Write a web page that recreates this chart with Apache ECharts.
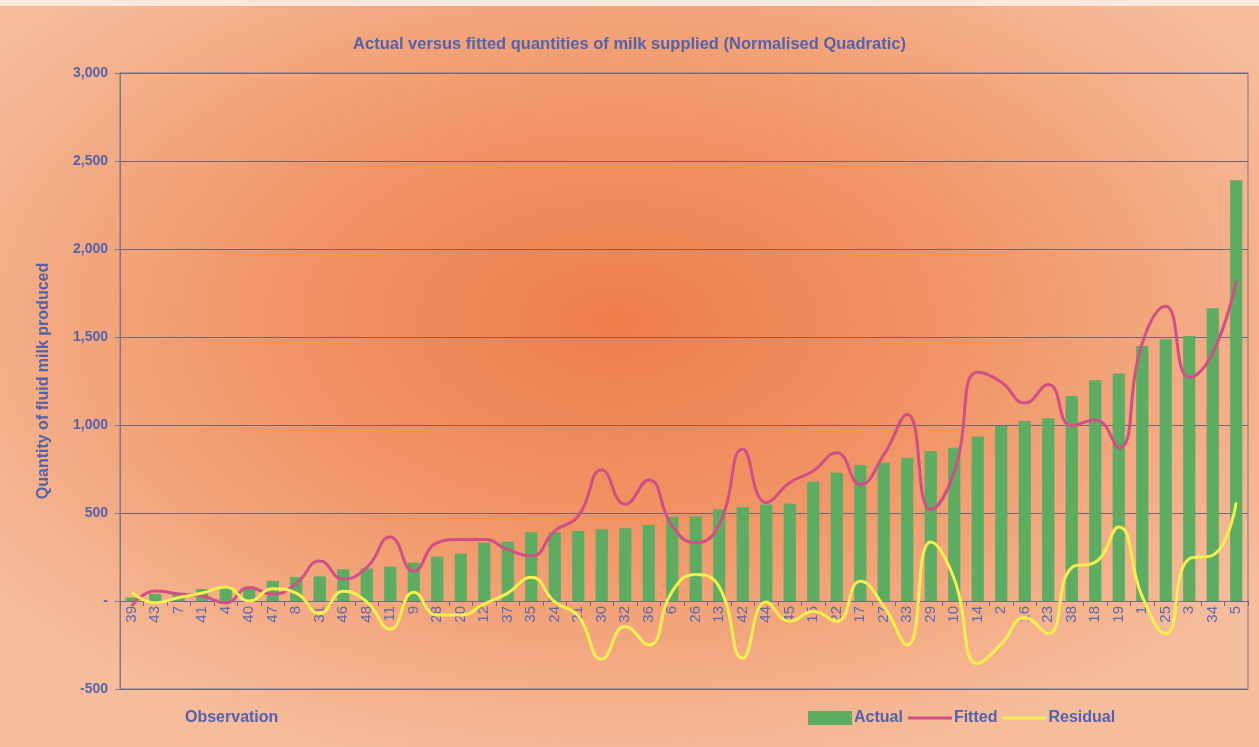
<!DOCTYPE html>
<html>
<head>
<meta charset="utf-8">
<script src="https://cdn.jsdelivr.net/npm/echarts@6/dist/echarts.min.js"></script>
<style>
  html, body { margin: 0; padding: 0; }
  #chart { width: 1259px; height: 747px; }
</style>
</head>
<body>
<div id="chart"></div>
<script>
// observation numbers, in the order they appear on the x axis
var categories = ['39','43','7','41','4','40','47','8','31','46','48','11','9','28','20','12','37','35','24','21','30','32','36','6','26','13','42','44','45','15','22','17','27','33','29','10','14','2','16','23','38','18','19','1','25','3','34','5'];

var actual = [20,40,47,68,75,80,114,136,140,180,185,195,218,252,269,331,337,390,390,398,407,413,432,478,480,521,534,549,552,678,729,773,786,814,852,871,934,994,1023,1038,1165,1254,1292,1449,1487,1506,1663,2390];

var fitted = [-28,57,40,28,-10,76,38,100,227,125,190,364,170,331,350,350,292,256,398,483,744,550,688,426,331,436,862,559,672,739,843,663,830,1060,520,735,1300,1245,1125,1230,995,1030,870,1465,1675,1270,1410,1820];

var residual = [50,-10,20,45,80,0,70,45,-70,55,-5,-160,50,-80,-80,-17,45,135,-5,-85,-330,-145,-250,55,150,80,-325,-5,-115,-60,-115,112,-30,-250,335,125,-355,-245,-95,-185,190,220,420,25,-185,240,260,560];

var yMin = -500, yMax = 3000, yStep = 500;

var blue = '#5262ab';
var font = '"Liberation Sans", Arial, sans-serif';

var gridTop = 73, gridBottom = 58, chartH = 747;
// move the category axis up so that it sits on the zero line
var plotH = chartH - gridTop - gridBottom;
var zeroOffset = -plotH * (0 - yMin) / (yMax - yMin);

var lineIcon = 'path://M0,0 L46,0 L46,3 L0,3 Z';

var myChart = echarts.init(document.getElementById('chart'));

var option = {
    backgroundColor: '#f6bd9c',
    graphic: [
        {
            type: 'rect',
            z: -100,
            silent: true,
            scaleX: 1259 / 747,
            shape: { x: 0, y: 0, width: 747, height: 747 },
            style: {
                fill: new echarts.graphic.RadialGradient(0.49, 0.43, 0.62, [
                    { offset: 0, color: '#ee7d4c' },
                    { offset: 0.45, color: '#f19566' },
                    { offset: 1, color: '#f6bd9c' }
                ])
            }
        },
        {
            type: 'rect',
            z: -90,
            silent: true,
            shape: { x: 0, y: 0, width: 1259, height: 6 },
            style: { fill: '#f8e9df' }
        },
        {
            type: 'text',
            left: 185,
            top: 710,
            style: {
                text: 'Observation',
                fill: blue,
                font: 'bold 16px ' + font
            }
        }
    ],
    title: {
        text: 'Actual versus fitted quantities of milk supplied (Normalised Quadratic)',
        left: 'center',
        top: 31,
        textStyle: {
            color: blue,
            fontSize: 16.5,
            fontWeight: 'bold',
            fontFamily: font
        }
    },
    legend: {
        left: 803,
        top: 705,
        itemWidth: 44,
        itemHeight: 14,
        itemGap: 5,
        textStyle: {
            color: blue,
            fontSize: 16,
            fontWeight: 'bold',
            fontFamily: font,
            padding: [0, 0, 0, -3]
        },
        data: [
            { name: 'Actual', icon: 'rect' },
            { name: 'Fitted', icon: lineIcon },
            { name: 'Residual', icon: lineIcon }
        ]
    },
    grid: {
        left: 120,
        right: 11,
        top: gridTop,
        bottom: gridBottom,
        show: true,
        borderColor: '#7c7790',
        borderWidth: 1
    },
    xAxis: {
        type: 'category',
        data: categories,
        offset: zeroOffset,
        axisLine: { onZero: false, lineStyle: { color: '#6f6b86', width: 1 } },
        axisTick: { show: true, length: 5, lineStyle: { color: '#6f6b86' } },
        axisLabel: {
            rotate: 90,
            interval: 0,
            margin: 5,
            color: '#5b69ad',
            fontSize: 15,
            fontFamily: font
        }
    },
    yAxis: {
        type: 'value',
        min: yMin,
        max: yMax,
        interval: yStep,
        name: 'Quantity of fluid milk produced',
        nameLocation: 'middle',
        nameGap: 68,
        nameTextStyle: {
            color: blue,
            fontSize: 16,
            fontWeight: 'bold',
            fontFamily: font
        },
        axisLine: { show: true, lineStyle: { color: '#7c7790' } },
        axisTick: { show: true, length: 5, lineStyle: { color: '#7c7790' } },
        splitLine: { lineStyle: { color: '#6e6474', width: 1 } },
        axisLabel: {
            margin: 12,
            color: blue,
            fontSize: 14,
            fontWeight: 'bold',
            fontFamily: font,
            formatter: function (v) {
                return v === 0 ? '-' : v.toLocaleString('en-US');
            }
        }
    },
    series: [
        {
            name: 'Actual',
            type: 'bar',
            barWidth: '52%',
            itemStyle: { color: '#5cad62' },
            data: actual
        },
        {
            name: 'Fitted',
            type: 'line',
            smooth: 0.5,
            symbol: 'none',
            itemStyle: { color: '#cf4f86' },
            lineStyle: { color: '#cf4f86', width: 3 },
            data: fitted
        },
        {
            name: 'Residual',
            type: 'line',
            smooth: 0.5,
            symbol: 'none',
            itemStyle: { color: '#f6f04e' },
            lineStyle: { color: '#f6f04e', width: 3 },
            data: residual
        }
    ]
};

myChart.setOption(option);
</script>
</body>
</html>
